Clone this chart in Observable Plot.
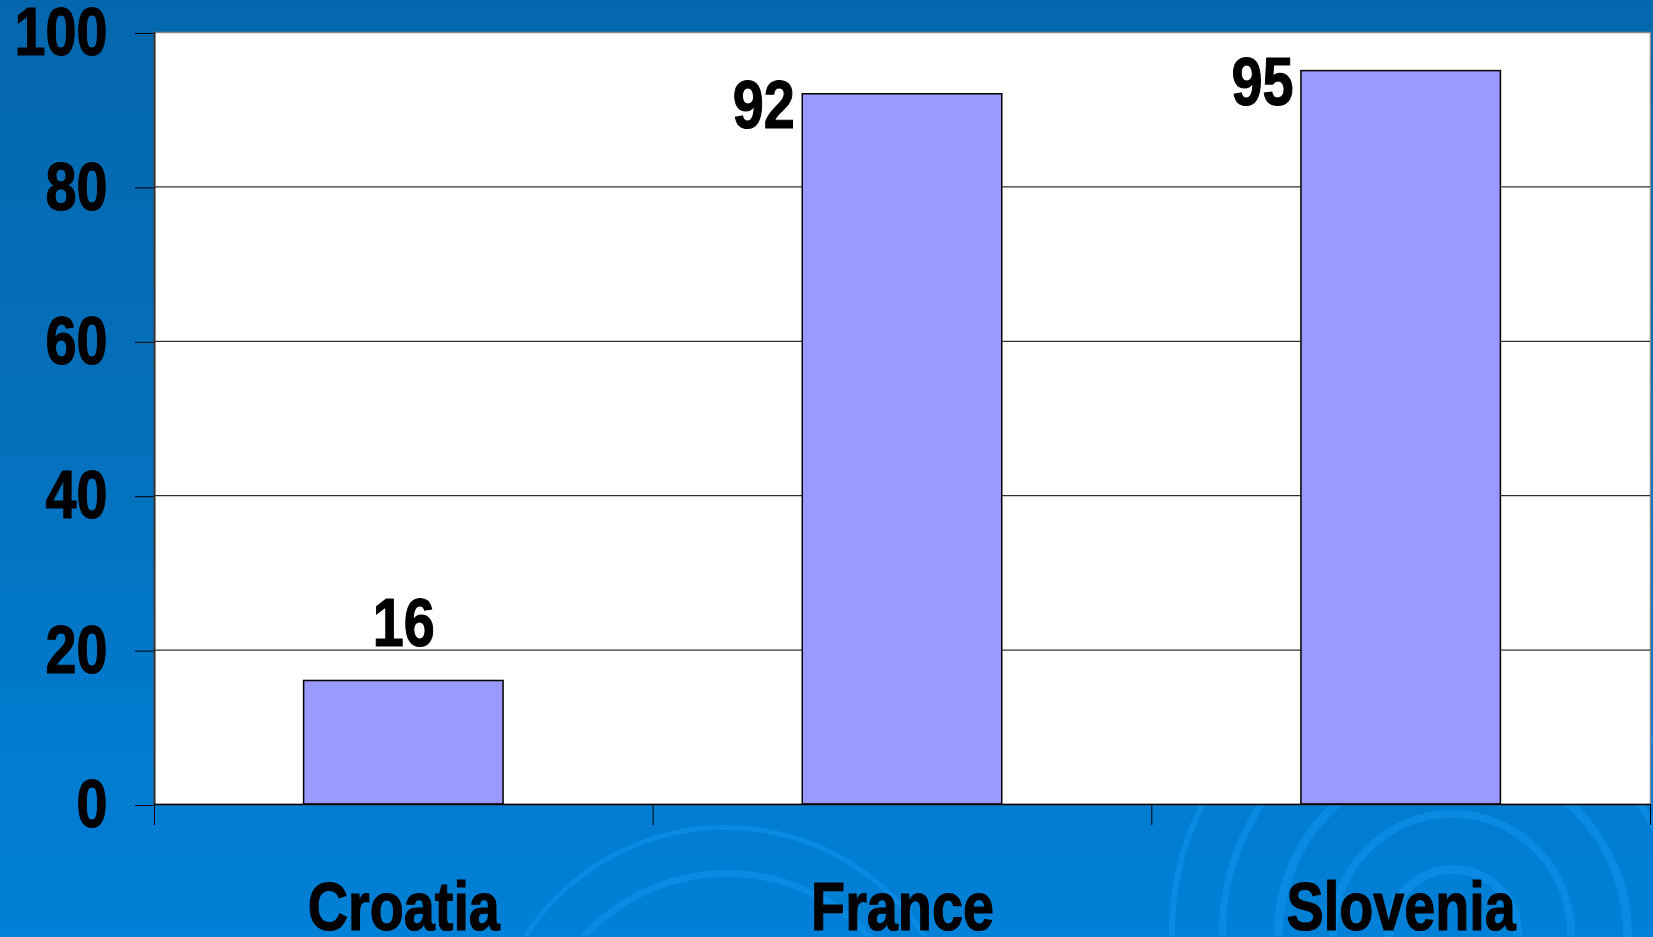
<!DOCTYPE html>
<html>
<head>
<meta charset="utf-8">
<script src="https://cdn.jsdelivr.net/npm/d3@7"></script>
<script src="https://cdn.jsdelivr.net/npm/@observablehq/plot@0.6"></script>
<style>
  html, body { margin: 0; padding: 0; }
  body {
    width: 1653px; height: 937px; overflow: hidden; position: relative;
    background: linear-gradient(to bottom, #0467ad 0%, #0470bb 45%, #007bcf 80%, #0080d6 100%);
    font-family: "Liberation Sans", Arial, sans-serif;
  }
  .deco { position: absolute; left: 0; top: 0; width: 1653px; height: 937px; z-index: 0; overflow: hidden; }
  .ring { position: absolute; border-radius: 50%; border-style: solid; border-color: rgba(20, 150, 240, 0.5); }
  #chart { position: absolute; left: 0; top: 0; z-index: 1; }
</style>
</head>
<body>
<div class="deco" id="deco"></div>
<div id="chart"></div>
<script>
const categories = ["Croatia", "France", "Slovenia"];
const values = [16, 92, 95];
const yTicks = [0, 20, 40, 60, 80, 100];
const gridValues = [20, 40, 60, 80];

const data = categories.map((c, i) => ({category: c, value: values[i], i}));

// decorative swirl rings (background only)
const deco = document.getElementById("deco");
[[1444, 925, 60, 9], [1444, 925, 115, 8], [1444, 925, 170, 9], [1444, 925, 225, 7], [1444, 925, 275, 6],
 [720, 1060, 190, 7], [720, 1060, 235, 5]].forEach(([cx, cy, r, w]) => {
  const d = document.createElement("div");
  d.className = "ring";
  d.style.left = (cx - r) + "px";
  d.style.top = (cy - r) + "px";
  d.style.width = (2 * r) + "px";
  d.style.height = (2 * r) + "px";
  d.style.borderWidth = w + "px";
  deco.appendChild(d);
});

const font = {fontSize: 68, fontWeight: "bold", fill: "black"};

const chart = Plot.plot({
  width: 1653,
  height: 937,
  marginLeft: 154,
  marginRight: 3,
  marginTop: 32,
  marginBottom: 133,
  style: {background: "transparent", fontFamily: '"Liberation Sans", Arial, sans-serif', color: "black", overflow: "visible"},
  x: {type: "linear", domain: [0, categories.length], axis: null},
  y: {domain: [0, 100], axis: null},
  marks: [
    Plot.frame({fill: "white", stroke: "#8a8a8a", strokeWidth: 1.5}),
    Plot.ruleY(gridValues, {stroke: "black", strokeWidth: 1}),
    Plot.rectY(data, {x1: d => d.i + 0.3, x2: d => d.i + 0.7, y: "value", fill: "#9999ff", stroke: "black", strokeWidth: 1.5}),
    Plot.ruleX([0], {stroke: "#333333", strokeWidth: 2}),
    Plot.ruleY([0], {stroke: "black", strokeWidth: 1.5}),
    Plot.axisY(yTicks, {anchor: "left", label: null, tickSize: 19, tickPadding: 28, tickFormat: d => String(d), color: "black", dy: 1, ...font}),
    Plot.axisX(d3.range(categories.length + 1), {anchor: "bottom", label: null, tickSize: 21, tickFormat: () => "", color: "black"}),
    Plot.axisX(categories.map((c, i) => i + 0.5), {anchor: "bottom", label: null, tickSize: 0, tickPadding: 77, tickFormat: v => categories[Math.floor(v)], color: "black", ...font}),
    Plot.text(data, {filter: d => d.value < 50, x: d => d.i + 0.5, y: "value", text: d => String(d.value), dy: -57, ...font}),
    Plot.text(data, {filter: d => d.value >= 50, x: d => d.i + 0.3, y: "value", text: d => String(d.value), textAnchor: "end", dx: -8, dy: 12, ...font})
  ]
});

// emulate a narrow bold face by horizontally compressing each text around its anchor
chart.querySelectorAll("text").forEach(el => {
  const t = el.getAttribute("transform") || "";
  const x = el.getAttribute("x");
  let extra = "";
  if (x != null) { extra = ` translate(${parseFloat(x) || 0},0)`; el.removeAttribute("x"); }
  el.setAttribute("transform", `${t}${extra} scale(0.82,1)`);
  el.setAttribute("stroke", "black");
  el.setAttribute("stroke-width", "1.2");
});

document.getElementById("chart").appendChild(chart);
</script>
</body>
</html>
